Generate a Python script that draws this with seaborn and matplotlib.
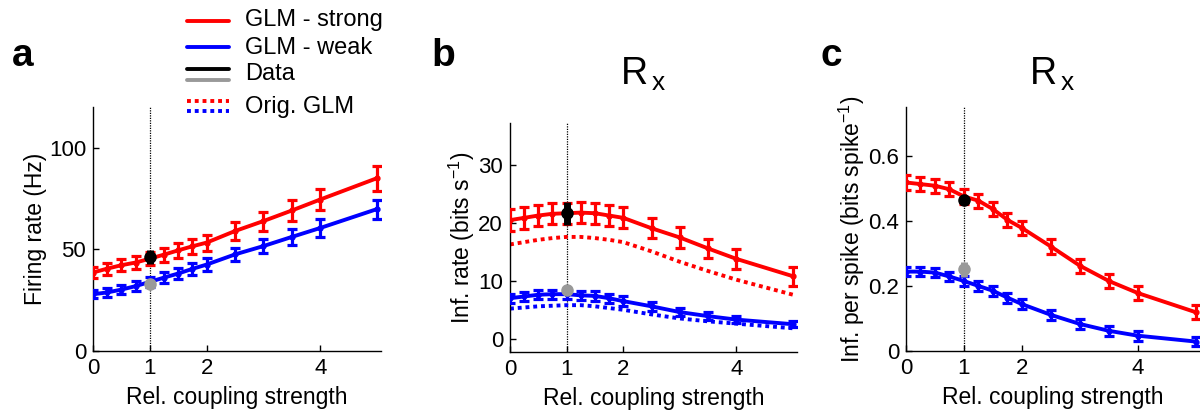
import numpy as np
import matplotlib
matplotlib.use("Agg")
import matplotlib.pyplot as plt
import seaborn as sns
from matplotlib.lines import Line2D

# ---------------- data ----------------
x = [0, 0.25, 0.5, 0.75, 1, 1.25, 1.5, 1.75, 2, 2.5, 3, 3.5, 4, 5]
xticks = [0, 1, 2, 4]

# panel a: firing rate (Hz)
rate_strong = [38.6, 40.5, 42.2, 43.5, 45.4, 47.4, 49.5, 51.5, 53.3, 59.0, 63.9, 69.1, 74.5, 85.0]
rate_strong_err = [2.8, 3.0, 3.1, 3.2, 3.3, 3.5, 3.6, 3.8, 3.9, 4.3, 4.7, 5.0, 5.4, 6.2]
rate_weak = [27.9, 28.8, 30.2, 31.9, 34.0, 36.1, 38.1, 40.4, 42.5, 47.5, 51.6, 56.1, 60.5, 69.8]
rate_weak_err = [2.0, 2.1, 2.2, 2.3, 2.4, 2.6, 2.7, 2.9, 3.0, 3.3, 3.6, 3.9, 4.2, 4.7]
rate_data = [46.2, 32.8]
rate_data_err = [3.3, 1.2]

# panel b: information rate (bits/s)
info_strong = [20.5, 20.9, 21.3, 21.6, 21.7, 21.8, 21.7, 21.3, 20.9, 19.1, 17.5, 15.6, 13.8, 10.8]
info_strong_err = [1.85, 1.85, 1.85, 1.85, 1.85, 1.85, 1.85, 1.8, 1.8, 1.75, 1.75, 1.7, 1.7, 1.65]
info_strong_orig = [16.3, 16.7, 17.1, 17.4, 17.6, 17.6, 17.4, 17.1, 16.7, 15.1, 13.3, 11.7, 10.2, 7.6]
info_weak = [7.0, 7.3, 7.6, 7.7, 7.7, 7.5, 7.4, 7.0, 6.5, 5.6, 4.6, 3.9, 3.3, 2.5]
info_weak_err = [0.8, 0.8, 0.8, 0.8, 0.8, 0.8, 0.8, 0.8, 0.8, 0.75, 0.7, 0.65, 0.6, 0.5]
info_weak_orig = [5.2, 5.4, 5.6, 5.7, 5.8, 5.8, 5.6, 5.3, 5.0, 4.2, 3.5, 3.0, 2.6, 1.8]
info_data = [21.7, 8.4]
info_data_err = [2.0, 0.6]

# panel c: information per spike (bits/spike)
spk_strong = [0.518, 0.513, 0.508, 0.497, 0.475, 0.462, 0.436, 0.403, 0.378, 0.321, 0.262, 0.215, 0.178, 0.119]
spk_strong_err = [0.022] * 14
spk_weak = [0.244, 0.244, 0.241, 0.229, 0.215, 0.200, 0.185, 0.164, 0.144, 0.111, 0.083, 0.062, 0.047, 0.029]
spk_weak_err = [0.015] * 14
spk_data = [0.463, 0.251]
spk_data_err = [0.015, 0.023]

RED = "#ff0000"
BLUE = "#0000ff"
BLACK = "#000000"
GREY = "#999999"

sns.set_style("ticks")
plt.rcParams["font.family"] = ["Liberation Sans", "DejaVu Sans"]
plt.rcParams["mathtext.default"] = "regular"
for k in ["text.color", "axes.labelcolor", "xtick.color", "ytick.color", "axes.edgecolor"]:
    plt.rcParams[k] = "black"

LABEL_FS = 16.5
TICK_FS = 16
LEG_FS = 17

fig = plt.figure(figsize=(12, 4.12), dpi=100)

W, H = 1200, 412
def pos(l, r, t, b):
    return [l / W, 1 - b / H, (r - l) / W, (b - t) / H]

ax_a = fig.add_axes(pos(93, 381, 107, 351))
ax_b = fig.add_axes(pos(510, 797, 123, 352))
ax_c = fig.add_axes(pos(906, 1200, 107, 351))


def draw(ax, strong, serr, weak, werr, data, derr, orig_s=None, orig_w=None):
    ax.axvline(1, color="black", lw=0.9, ls=(0, (1, 1)), zorder=1)
    if orig_s is not None:
        sns.lineplot(x=x, y=orig_s, ax=ax, color=RED, lw=2.8, ls=(0, (1, 1)), zorder=2)
        sns.lineplot(x=x, y=orig_w, ax=ax, color=BLUE, lw=2.8, ls=(0, (1, 1)), zorder=2)
    for y, e, c in [(weak, werr, BLUE), (strong, serr, RED)]:
        sns.lineplot(x=x, y=y, ax=ax, color=c, lw=2.8, zorder=3)
        ax.errorbar(x, y, yerr=e, fmt="o", ms=3.5, color=c, ecolor=c,
                    elinewidth=2.3, capsize=3.5, capthick=2.3, zorder=3, clip_on=True)
    for val, e, c in [(data[0], derr[0], BLACK), (data[1], derr[1], GREY)]:
        ax.errorbar([1], [val], yerr=[e], fmt="o", ms=8, color=c, ecolor=c,
                    elinewidth=5, capsize=0, zorder=5)
    ax.set_xlim(0, 5.07)
    ax.set_xticks(xticks)
    ax.set_xticklabels([str(t) for t in xticks])
    ax.set_xlabel("Rel. coupling strength", fontsize=LABEL_FS, labelpad=5)
    ax.tick_params(direction="in", length=4, width=1, labelsize=TICK_FS, pad=5)
    for s in ["top", "right"]:
        ax.spines[s].set_visible(False)
    for s in ["left", "bottom"]:
        ax.spines[s].set_linewidth(1.0)
        ax.spines[s].set_color("black")


draw(ax_a, rate_strong, rate_strong_err, rate_weak, rate_weak_err, rate_data, rate_data_err)
ax_a.set_ylim(0, 120)
ax_a.set_yticks([0, 50, 100])
ax_a.set_ylabel("Firing rate (Hz)", fontsize=LABEL_FS, labelpad=1)

draw(ax_b, info_strong, info_strong_err, info_weak, info_weak_err, info_data, info_data_err,
     info_strong_orig, info_weak_orig)
ax_b.set_ylim(-2.3, 37.3)
ax_b.set_yticks([0, 10, 20, 30])
ax_b.set_ylabel("Inf. rate (bits s$^{-1}$)", fontsize=LABEL_FS, labelpad=1)

draw(ax_c, spk_strong, spk_strong_err, spk_weak, spk_weak_err, spk_data, spk_data_err)
ax_c.set_ylim(0, 0.75)
ax_c.set_yticks([0, 0.2, 0.4, 0.6])
ax_c.set_yticklabels(["0", "0.2", "0.4", "0.6"])
ax_c.set_ylabel("Inf. per spike (bits spike$^{-1}$)", fontsize=LABEL_FS, labelpad=1)

# panel letters
for lx, lab in [(12, "a"), (431, "b"), (820, "c")]:
    fig.text(lx / W, 1 - 66 / H, lab, fontsize=28, fontweight="bold", ha="left", va="baseline")

# titles
for cx in [643, 1052]:
    fig.text(cx / W, 1 - 85 / H, "R$_{\\,x}$", fontsize=27, ha="center", va="baseline")

# custom legend
def legline(y, color, ls="-"):
    fig.add_artist(Line2D([187 / W, 229 / W], [1 - y / H, 1 - y / H], color=color, lw=2.8,
                          ls=ls, transform=fig.transFigure))

legline(20.7, RED)
legline(46.7, BLUE)
legline(69.3, BLACK)
legline(80, GREY)
legline(101, RED, (0, (1, 1)))
legline(111, BLUE, (0, (1, 1)))
for ty, txt in [(20, "GLM - strong"), (48, "GLM - weak"), (74, "Data"), (107, "Orig. GLM")]:
    fig.text(245 / W, 1 - ty / H, txt, fontsize=LEG_FS, ha="left", va="center")

fig.savefig("out.png", dpi=100)
